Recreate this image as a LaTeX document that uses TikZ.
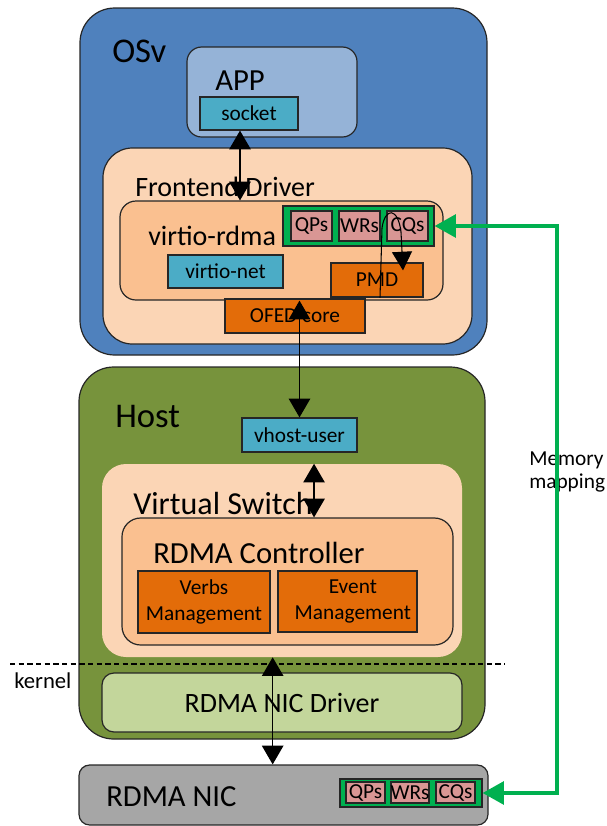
\documentclass[tikz,border=0pt]{standalone}
\usepackage{fontspec}
\setmainfont{Carlito}
\usepackage{tikz}
\usetikzlibrary{arrows.meta,fit,calc}

\definecolor{osvblue}{HTML}{4F81BD}
\definecolor{appblue}{HTML}{95B3D7}
\definecolor{sockcyan}{HTML}{4BACC6}
\definecolor{peachlt}{HTML}{FBD5B5}
\definecolor{peach}{HTML}{FAC090}
\definecolor{rust}{HTML}{E36C09}
\definecolor{qgreen}{HTML}{00B050}
\definecolor{qpink}{HTML}{D99694}
\definecolor{hostgreen}{HTML}{77933C}
\definecolor{drvgreen}{HTML}{C3D69B}
\definecolor{nicgray}{HTML}{A6A6A6}

\begin{document}
\begin{tikzpicture}[x=0.75pt,y=-0.75pt,
	box/.style={draw=black!85,line width=0.9pt,inner sep=0pt},
	tag/.style={font=\fontsize{16}{20}\selectfont,align=center,inner sep=0pt},
	title/.style={anchor=west,inner sep=0pt},
	link/.style={line width=1.1pt,{Triangle[width=16pt,length=14pt]}-{Triangle[width=16pt,length=14pt]}},
	memmap/.style={draw=qgreen,line width=3pt,{Triangle[width=17pt,length=16pt]}-{Triangle[width=17pt,length=16pt]}}]
\useasboundingbox (0,0) rectangle (607,826);

% guest
\node[box,fill=osvblue,rounded corners=26pt,fit={(80,8) (487,355)}] (osv) {};
\node[box,fill=appblue,rounded corners=11pt,fit={(187,47) (357,137)}] (app) {};
\node[box,fill=sockcyan,fit={(200,97) (298,130)},label={[tag]center:socket}] (socket) {};
\node[box,fill=peachlt,rounded corners=22pt,fit={(103,148) (472,344)}] (fd) {};
\node[box,fill=peach,rounded corners=12pt,fit={(120,201) (443,300)}] (vrdma) {};
\node[box,fill=qgreen,fit={(283,206) (434,246)}] (gcont) {};
\foreach \nm/\lbl/\xa/\xb in {q/QPs/291/332, w/WRs/339/380, c/CQs/387/428}
	\node[box,fill=qpink,fit={(\xa,211) (\xb,241)},label={[tag]center:\lbl}] (g\nm) {};
\node[box,fill=sockcyan,fit={(168,255) (283,288)},label={[tag]center:virtio-net}] (vnet) {};
\node[box,fill=rust,fit={(331,263) (423,297)},label={[tag]center:PMD}] (pmd) {};
\node[box,fill=rust,fit={(225,299) (365,333)},label={[tag]center:OFED core}] (ofed) {};

\node[title,font=\fontsize{26}{31}\selectfont] (osvt) at (112,51) {OSv};
\node[title,font=\fontsize{23}{28}\selectfont] (appt) at (215,81) {APP};
\node[title,font=\fontsize{21}{25}\selectfont] (fdt) at (135,187) {Frontend Driver};
\node[title,font=\fontsize{21}{25}\selectfont] (vrdmat) at (148,236) {virtio-rdma};

% host
\node[box,fill=hostgreen,rounded corners=26pt,fit={(79,367) (485,739)}] (host) {};
\node[box,fill=sockcyan,fit={(242,418) (357,452)},label={[tag]center:vhost-user}] (vhost) {};
\node[inner sep=0pt,fill=peachlt,rounded corners=18pt,fit={(102,464) (462,657)}] (vswitch) {};
\node[box,fill=peach,rounded corners=14pt,fit={(122,518) (453,645)}] (rctrl) {};
\node[box,fill=rust,fit={(138,571) (270,633)},label={[tag]center:Verbs\\Management}] (verbs) {};
\node[box,fill=rust,fit={(278,571) (417,632)},label={[tag,xshift=4pt]center:Event\\Management}] (event) {};
\node[box,fill=drvgreen,rounded corners=9pt,fit={(102,673) (462,732)},
	label={[tag,font=\fontsize{21}{25}\selectfont]center:RDMA NIC Driver}] (nicdrv) {};

\node[title,font=\fontsize{26}{31}\selectfont] (hostt) at (115,416) {Host};
\node[title,font=\fontsize{24}{29}\selectfont] (vswitcht) at (133,503) {Virtual Switch};
\node[title,font=\fontsize{23}{28}\selectfont] (rctrlt) at (153,553) {RDMA Controller};

% nic
\node[box,fill=nicgray,rounded corners=8pt,fit={(79,765) (488,825)}] (nic) {};
\node[box,fill=qgreen,fit={(340,779) (482,807)}] (ncont) {};
\foreach \nm/\lbl/\xa/\xb in {q/QPs/346/385, w/WRs/391/429, c/CQs/436/475}
	\node[box,fill=qpink,fit={(\xa,782) (\xb,803)},label={[tag]center:\lbl}] (n\nm) {};
\node[title,font=\fontsize{23}{28}\selectfont] (nict) at (106,797) {RDMA NIC};

\draw[line width=0.9pt,dash pattern=on 4pt off 2.5pt] (10,664) -- (505,664);
\node[title,font=\fontsize{17}{20}\selectfont] (kernel) at (14,681) {kernel};
\node[title,align=left,font=\fontsize{16}{17}\selectfont] (memt) at (529,472) {Memory\\mapping};

% links
\draw[link] ([xshift=-6.75pt]socket.south) -- ([xshift=-6.75pt]socket.south |- vrdma.north);
\draw[link] (vhost.north |- vrdma.south) -- (vhost.north);
\draw[link] ([xshift=10.9pt]vhost.south |- vswitch.north) -- ([xshift=10.9pt]vhost.south |- rctrl.north);
\draw[link] ([xshift=-7pt]vswitch.south) -- ([xshift=-7pt]vswitch.south |- nic.north);
\draw[line width=0.8pt,-{Triangle[width=15pt,length=14pt]}] ([xshift=2.25pt]pmd.south) -- (382,228)
	.. controls (385,207) and (398,207) .. (401,232) -- ([xshift=19.5pt,yshift=-6pt]pmd.north);

\coordinate (mm) at (557,0);
\draw[memmap] (gcont.east) -- (gcont.east -| mm) -- (ncont.east -| mm) -- (ncont.east);
\end{tikzpicture}
\end{document}
